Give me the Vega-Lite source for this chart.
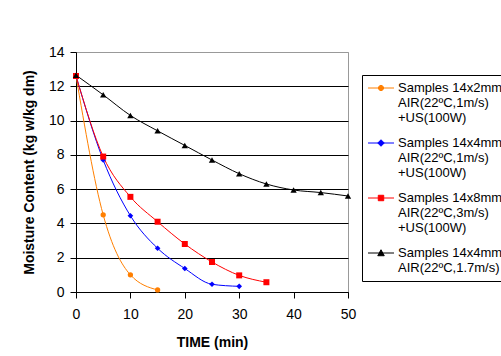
{
  "$schema": "https://vega.github.io/schema/vega-lite/v6.json",
  "width": 272,
  "height": 240,
  "autosize": "none",
  "padding": {"left": 76, "top": 52, "right": 153, "bottom": 64},
  "background": "white",
  "config": {
    "font": "Liberation Sans",
    "view": {"stroke": "#999999", "strokeWidth": 1},
    "axis": {"labelFont": "Liberation Sans", "titleFont": "Liberation Sans", "labelColor": "black", "titleColor": "black", "domainColor": "black", "tickColor": "black"}
  },
  "data": {"values": [
    {"s": "a", "t": 0, "m": 12.6}, {"s": "a", "t": 5, "m": 4.5}, {"s": "a", "t": 10, "m": 1.0}, {"s": "a", "t": 15, "m": 0.12},
    {"s": "b", "t": 0, "m": 12.6}, {"s": "b", "t": 5, "m": 7.7}, {"s": "b", "t": 10, "m": 4.45}, {"s": "b", "t": 15, "m": 2.55}, {"s": "b", "t": 20, "m": 1.37}, {"s": "b", "t": 25, "m": 0.45}, {"s": "b", "t": 30, "m": 0.33},
    {"s": "c", "t": 0, "m": 12.6}, {"s": "c", "t": 5, "m": 7.9}, {"s": "c", "t": 10, "m": 5.55}, {"s": "c", "t": 15, "m": 4.1}, {"s": "c", "t": 20, "m": 2.8}, {"s": "c", "t": 25, "m": 1.75}, {"s": "c", "t": 30, "m": 0.97}, {"s": "c", "t": 35, "m": 0.57},
    {"s": "d", "t": 0, "m": 12.65}, {"s": "d", "t": 5, "m": 11.5}, {"s": "d", "t": 10, "m": 10.3}, {"s": "d", "t": 15, "m": 9.4}, {"s": "d", "t": 20, "m": 8.55}, {"s": "d", "t": 25, "m": 7.7}, {"s": "d", "t": 30, "m": 6.9}, {"s": "d", "t": 35, "m": 6.3}, {"s": "d", "t": 40, "m": 5.95}, {"s": "d", "t": 45, "m": 5.8}, {"s": "d", "t": 50, "m": 5.6}
  ]},
  "encoding": {
    "x": {"field": "t", "type": "quantitative", "scale": {"domain": [0, 50], "nice": false},
      "axis": {"title": "TIME (min)", "values": [0, 10, 20, 30, 40, 50], "grid": false, "labelFontSize": 14, "titleFontSize": 14, "titleFontWeight": "bold", "tickSize": 6, "labelPadding": 9, "titlePadding": 14, "labelFlush": false}},
    "y": {"field": "m", "type": "quantitative", "scale": {"domain": [0, 14], "nice": false},
      "axis": {"title": "Moisture Content (kg w/kg dm)", "values": [0, 2, 4, 6, 8, 10, 12, 14], "grid": true, "gridColor": {"condition": {"test": "datum.value == 14", "value": "#999999"}, "value": "black"}, "gridOpacity": 1, "labelFontSize": 14, "titleFontSize": 14, "titleFontWeight": "bold", "tickSize": 6, "labelPadding": 6, "titlePadding": 12, "labelFlush": false}}
  },
  "resolve": {"scale": {"color": "independent"}, "legend": {"color": "independent"}},
  "layer": [
    {"mark": {"type": "line", "interpolate": "monotone", "strokeWidth": 1},
     "encoding": {
      "color": {"field": "s", "type": "nominal",
      "scale": {"domain": ["a", "b", "c", "d"], "range": ["#FF7F00", "#0000FF", "#FF0000", "#000000"]},
      "legend": {
        "orient": "none", "legendX": 286, "legendY": 23,
        "title": null,
        "strokeColor": "black", "fillColor": "white", "padding": 6,
        "labelFont": "Liberation Sans", "labelFontSize": 13, "labelColor": "black", "labelLineHeight": 16,
        "labelExpr": "datum.value == 'a' ? ['Samples 14x2mm','AIR(22ºC,1m/s)','+US(100W)'] : datum.value == 'b' ? ['Samples 14x4mm','AIR(22ºC,1m/s)','+US(100W)'] : datum.value == 'c' ? ['Samples 14x8mm','AIR(22ºC,3m/s)','+US(100W)'] : ['Samples 14x4mm','AIR(22ºC,1.7m/s)']",
        "rowPadding": 11,
        "symbolSize": 169,
        "symbolOffset": 6,
        "symbolStrokeWidth": 1,
        "labelOffset": 10,
        "encode": {
          "symbols": {"update": {
            "shape": {"signal": "datum.value == 'a' ? 'M-2,0L2,0M0.4,0A0.4,0.4,0,1,1,-0.4,0A0.4,0.4,0,1,1,0.4,0Z' : datum.value == 'b' ? 'M-2,0L2,0M0,-0.5L0.5,0L0,0.5L-0.5,0Z' : datum.value == 'c' ? 'M-2,0L2,0M-0.42,-0.42L0.42,-0.42L0.42,0.42L-0.42,0.42Z' : 'M-2,0L2,0M0,-0.5L0.5,0.42L-0.5,0.42Z'"},
            "size": {"value": 169},
            "fill": {"signal": "datum.value == 'a' ? '#FF7F00' : datum.value == 'b' ? '#0000FF' : datum.value == 'c' ? '#FF0000' : '#000000'"},
            "stroke": {"signal": "datum.value == 'a' ? '#FF7F00' : datum.value == 'b' ? '#0000FF' : datum.value == 'c' ? '#FF0000' : '#000000'"},
            "strokeWidth": {"value": 1},
            "strokeOpacity": {"value": 1},
            "fillOpacity": {"value": 1},
            "opacity": {"value": 1}
          }}
        }
      }}
     }},
    {"mark": {"type": "point", "filled": true, "opacity": 1},
     "encoding": {
       "color": {"field": "s", "type": "nominal", "scale": {"domain": ["a", "b", "c", "d"], "range": ["#FF7F00", "#0000FF", "#FF0000", "#000000"]}, "legend": null},
       "shape": {"field": "s", "type": "nominal", "scale": {"domain": ["a", "b", "c", "d"], "range": ["circle", "diamond", "square", "triangle-up"]}, "legend": null},
       "size": {"field": "s", "type": "nominal", "scale": {"domain": ["a", "b", "c", "d"], "range": [28, 40, 40, 45]}, "legend": null}
     }}
  ]
}
